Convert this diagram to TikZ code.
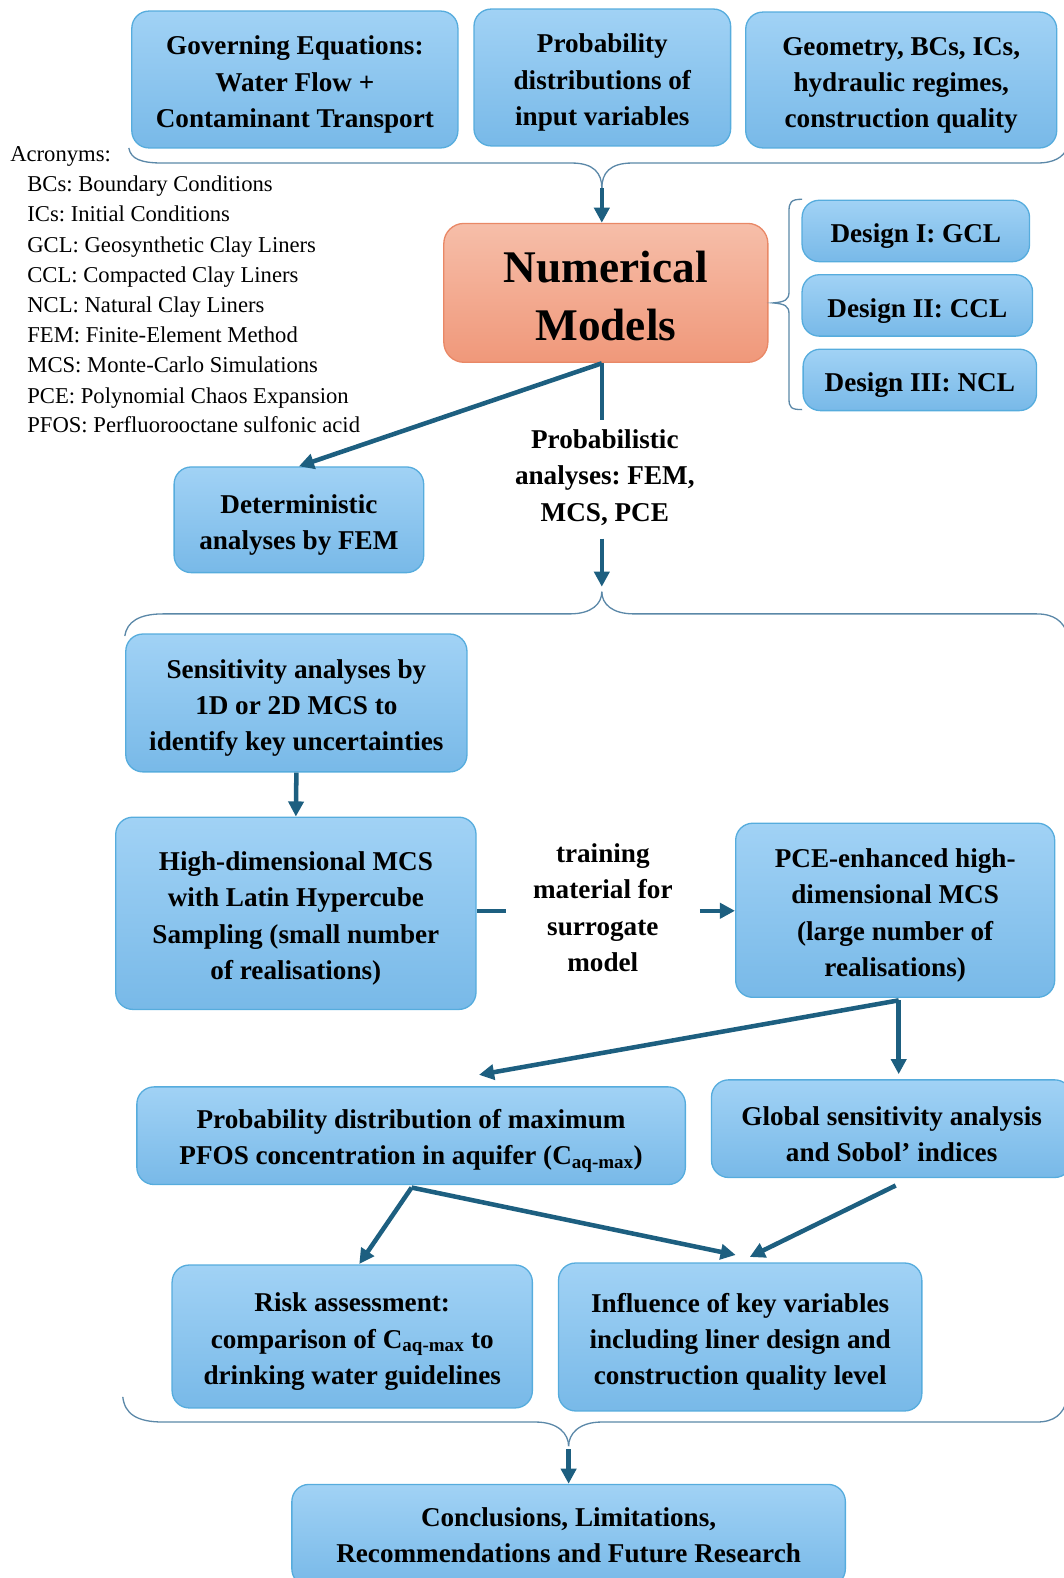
\documentclass[tikz,border=0pt]{standalone}
\usepackage{fontspec}
\setmainfont{Liberation Serif}
\frenchspacing
\usetikzlibrary{arrows.meta,calc}

\definecolor{boxtop}{HTML}{A1D2F5}
\definecolor{boxbot}{HTML}{78B9E8}
\definecolor{boxedge}{HTML}{56ACDD}
\definecolor{nmtop}{HTML}{F6BEA9}
\definecolor{nmbot}{HTML}{F0987A}
\definecolor{nmedge}{HTML}{E98866}
\definecolor{arrowc}{HTML}{1D5F80}
\definecolor{bracec}{HTML}{5B88A8}

% taller first-line struts set the text a little below the box centre
\newcommand{\boxstrut}{\rule{0pt}{29pt}}
\newcommand{\bigstrut}{\rule{0pt}{38pt}}

\tikzset{
  bluebox/.style={rounded corners=17pt, draw=boxedge, line width=1.3pt,
    top color=boxtop, bottom color=boxbot, align=center, inner sep=0pt,
    font=\bfseries\fontsize{27}{36}\selectfont},
  modelbox/.style={rounded corners=20pt, draw=nmedge, line width=1.3pt,
    top color=nmtop, bottom color=nmbot, align=center, inner sep=0pt,
    font=\bfseries\fontsize{45}{58}\selectfont},
  label/.style={align=center, font=\bfseries\fontsize{27}{36}\selectfont},
  acrtext/.style={align=left, anchor=base west, inner sep=0pt,
    font=\fontsize{22.5}{30}\selectfont},
  flow/.style={-{Triangle[length=15pt,width=15pt]}, line width=4.5pt, draw=arrowc},
  plainflow/.style={line width=4.5pt, draw=arrowc},
  curly/.style={draw=bracec, line width=1.3pt}
}

\begin{document}
\begin{tikzpicture}[x=1pt,y=-1pt]
\useasboundingbox (0,0) rectangle (1057,1568);

% inputs
\node[bluebox, minimum width=324, minimum height=136] (gov) at (293,79)
  {\boxstrut Governing Equations:\\Water Flow +\\Contaminant Transport};
\node[bluebox, minimum width=255, minimum height=136] (pdin) at (598.5,77)
  {\boxstrut Probability\\distributions of\\input variables};
\node[bluebox, minimum width=309, minimum height=135] (geo) at (895.5,79.5)
  {\boxstrut Geometry, BCs, ICs,\\hydraulic regimes,\\construction quality};

% brace gathering the inputs
\coordinate (toptip) at (598,187);
\draw[curly] (128,147) .. controls (130,158) and (140,162) .. (162,162)
  -- (568,162) .. controls (590,162) and (598,172) .. (toptip);
\draw[curly] (toptip) .. controls (598,172) and (606,162) .. (628,162)
  -- (1030,162) .. controls (1048,162) and (1056,156) .. (1060,148);

% acronyms
\node[acrtext] (acr) at (10,160.5) {Acronyms:};
\node[acrtext] (acr1) at (27,190.5) {BCs: Boundary Conditions};
\node[acrtext] (acr2) at (27,220.5) {ICs: Initial Conditions};
\node[acrtext] (acr3) at (27,250.5) {GCL: Geosynthetic Clay Liners};
\node[acrtext] (acr4) at (27,280.5) {CCL: Compacted Clay Liners};
\node[acrtext] (acr5) at (27,310.5) {NCL: Natural Clay Liners};
\node[acrtext] (acr6) at (27,340.5) {FEM: Finite-Element Method};
\node[acrtext] (acr7) at (27,370.5) {MCS: Monte-Carlo Simulations};
\node[acrtext] (acr8) at (27,400.5) {PCE: Polynomial Chaos Expansion};
\node[acrtext] (acr9) at (27,429.5) {PFOS: Perfluorooctane sulfonic acid};

% numerical models and liner designs
\node[modelbox, minimum width=322, minimum height=138] (nm) at (602,291)
  {\bigstrut Numerical\\Models};
\node[bluebox, minimum width=226, minimum height=61] (d1) at (910,229.5) {\boxstrut Design I: GCL};
\node[bluebox, minimum width=229, minimum height=61] (d2) at (911.5,303.5) {\boxstrut Design II: CCL};
\node[bluebox, minimum width=232, minimum height=61] (d3) at (914,377.5) {\boxstrut Design III: NCL};
\draw[curly] (797,198) .. controls (786,198) and (784,201) .. (784,210)
  -- (784,290) .. controls (784,298) and (780,300) .. (768,301)
  .. controls (780,302) and (784,304) .. (784,312)
  -- (784,396) .. controls (784,405) and (786,407) .. (797,407);

\draw[flow] (toptip) -- (toptip |- nm.north);

% analyses
\coordinate (nmout) at (598,361);
\node[bluebox, minimum width=248, minimum height=105] (det) at (297,516.5)
  {\boxstrut Deterministic\\analyses by FEM};
\node[label, inner sep=10pt] (prob) at (601,474.5)
  {Probabilistic\\analyses: FEM,\\MCS, PCE};
\draw[flow] (nmout) -- (det.north);
\draw[plainflow] (nmout) -- (nmout |- prob.north);

% brace opening the probabilistic part
\coordinate (midtip) at (598,588);
\draw[curly] (124,632) .. controls (126,618) and (138,610) .. (162,610)
  -- (566,610) .. controls (588,610) and (598,600) .. (midtip);
\draw[curly] (midtip) .. controls (598,600) and (608,610) .. (630,610)
  -- (1030,610) .. controls (1048,610) and (1056,618) .. (1060,628);
\draw[flow, shorten >=5pt] (prob.south -| midtip) ++(0,3) -- (midtip);

\node[bluebox, minimum width=339, minimum height=137] (sens) at (294.5,698.5)
  {\boxstrut Sensitivity analyses by\\1D or 2D MCS to\\identify key uncertainties};
\node[bluebox, minimum width=358, minimum height=191] (hd) at (294,907.5)
  {\boxstrut High-dimensional MCS\\with Latin Hypercube\\Sampling (small number\\of realisations)};
\node[bluebox, minimum width=317, minimum height=173] (pce) at (889.5,904.5)
  {\boxstrut PCE-enhanced high-\\dimensional MCS\\(large number of\\realisations)};
\node[label, inner xsep=27pt, inner ysep=0pt] (train) at (599,902)
  {training\\material for\\surrogate\\model};
\draw[flow] (sens.south) -- (hd.north);
\draw[plainflow] (hd.east |- 0,905) -- (train.west |- 0,905);
\draw[flow] (train.east |- 0,905) -- (pce.west |- 0,905);

% results
\node[bluebox, minimum width=545, minimum height=97] (pdist) at (408.5,1128.5)
  {\boxstrut Probability distribution of maximum\\PFOS concentration in aquifer (C\textsubscript{aq-max})};
\node[bluebox, minimum width=358, minimum height=97] (gs) at (886,1121.5)
  {\boxstrut Global sensitivity analysis\\and Sobol’ indices};
\coordinate (pceout) at (893,994);
\coordinate (pdistin) at (476,1068);
\draw[flow] (pceout) -- (pdistin);
\draw[flow, shorten >=5pt] (pceout) -- (pceout |- gs.north);

\node[bluebox, minimum width=358, minimum height=142] (risk) at (350,1328)
  {\boxstrut Risk assessment:\\comparison of C\textsubscript{aq-max} to\\drinking water guidelines};
\node[bluebox, minimum width=361, minimum height=147] (infl) at (735.5,1328.5)
  {\boxstrut Influence of key variables\\including liner design and\\construction quality level};
\coordinate (pdout) at (409,1180);
\coordinate (gsout) at (890,1178);
\coordinate (riskin) at (357,1256);
\coordinate (inflin) at (731,1247);
\coordinate (inflin2) at (745,1249);
\draw[flow] (pdout) -- (riskin);
\draw[flow] (pdout) -- (inflin);
\draw[flow] (gsout) -- (inflin2);

% brace closing the probabilistic part
\coordinate (bottip) at (565,1437);
\draw[curly] (122,1388) .. controls (124,1405) and (136,1413) .. (162,1413)
  -- (532,1413) .. controls (555,1413) and (565,1425) .. (bottip);
\draw[curly] (bottip) .. controls (565,1425) and (575,1413) .. (598,1413)
  -- (1030,1413) .. controls (1048,1413) and (1056,1405) .. (1060,1392);

\node[bluebox, minimum width=550, minimum height=101] (concl) at (565,1525.5)
  {Conclusions, Limitations,\\Recommendations and Future Research};
\draw[flow] (bottip) ++(0,3) -- (concl.north);
\end{tikzpicture}
\end{document}
